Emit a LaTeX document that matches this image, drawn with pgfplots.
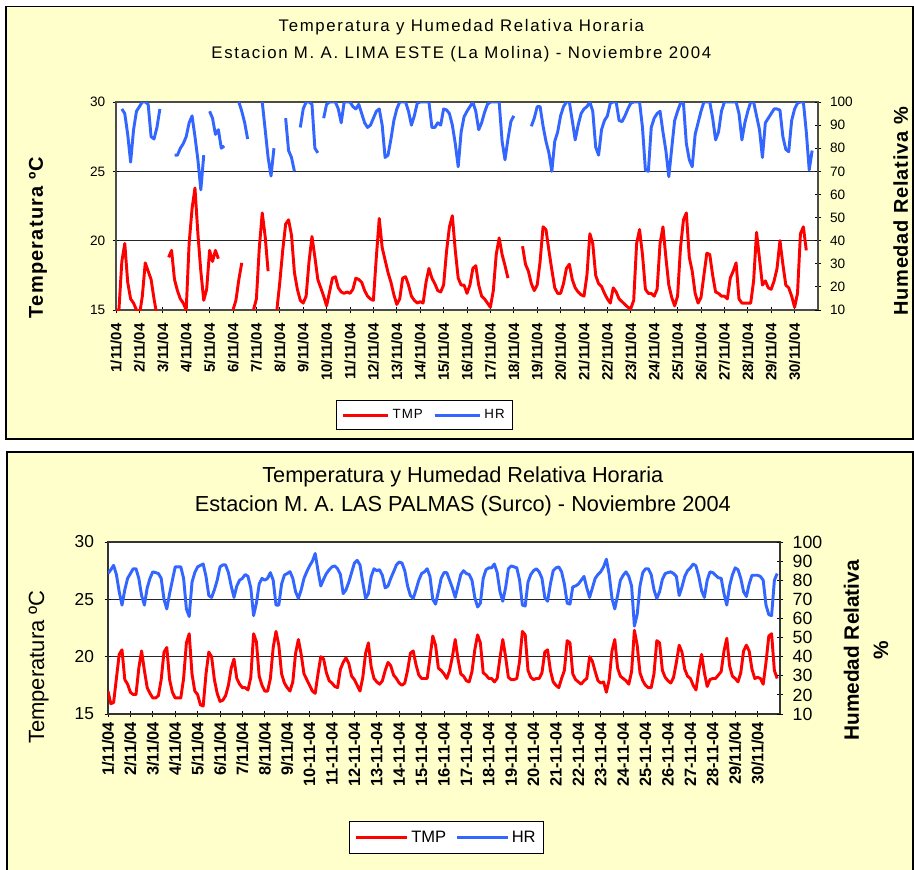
\documentclass[border=0pt]{standalone}
\usepackage{fontspec}
\setmainfont{Liberation Sans}
\usepackage{pgfplots}
\usepackage{pgfplotstable}
\pgfplotsset{compat=1.18}
\definecolor{panelbg}{HTML}{FFFFCC}
\definecolor{tmpred}{HTML}{FF0000}
\definecolor{hrblue}{HTML}{3366FF}

% Top panel (La Molina), 3-hourly values: T (degC), H (%)
\pgfplotstableread{
T H
15.0 nan
15.0 nan
18.5 97
19.8 95
17.0 86
15.8 74
15.5 88
15.0 96
14.6 98
16.0 100
18.4 100
17.8 99
17.2 85
15.8 84
14.6 89
nan 97
nan nan
nan nan
18.8 nan
19.3 nan
17.2 77
16.4 77
15.8 80
15.5 82
15.0 85
19.8 91
22.3 94
23.8 85
20.5 75
17.8 62
15.7 77
16.5 nan
19.3 96
18.5 93
19.3 86
18.7 88
nan 80
nan 81
nan nan
nan nan
15.0 nan
15.7 nan
17.2 100
18.4 96
nan 91
nan 84
nan nan
15.0 nan
15.8 nan
19.5 nan
22.0 100
20.3 88
17.8 76
nan 68
nan 80
15.0 nan
17.0 nan
19.3 nan
21.2 93
21.5 79
20.4 76
17.7 70
16.5 nan
15.7 89
15.5 97
16.0 100
18.5 100
20.3 99
18.8 80
17.2 78
16.6 nan
16.0 93
15.3 99
16.3 100
17.3 100
17.4 100
16.6 97
16.3 91
16.2 100
16.3 100
16.2 100
16.5 98
17.3 97
17.2 99
17.0 95
16.4 91
16.0 89
15.8 90
15.7 93
18.8 96
21.6 97
19.5 90
18.6 76
17.7 77
17.0 84
16.1 92
15.4 97
15.8 100
17.3 100
17.4 100
16.8 96
16.0 90
15.7 94
15.5 99.5
15.6 100
15.5 100
17.0 100
18.0 100
17.3 89
16.9 89
16.4 91
16.3 90
16.8 97
19.2 96.6
21.0 95
21.8 90
19.3 82
17.3 72
16.8 87
16.8 93.6
16.2 96
16.8 98
18.0 100
18.2 96
16.8 88
16.0 91
15.8 95.5
15.5 99
15.2 100
16.4 100
19.0 100
20.2 100
19.0 83
18.2 75
17.3 84
nan 91.5
nan 94
nan nan
nan nan
19.6 nan
18.3 nan
17.8 nan
16.9 89.5
16.4 93
16.8 98
18.5 98
21.0 89.6
20.8 83
19.3 78
17.9 70
16.6 83
16.2 87
16.2 94
16.9 98
18.0 100
18.3 100
17.2 92
16.6 83.6
16.3 90
16.1 95
16.0 97
17.5 98
20.5 100
19.8 96
17.5 80.5
16.9 77
16.7 88
16.2 92
15.8 94
15.5 99.5
16.6 100
16.3 100
15.8 92
15.6 91.5
15.4 94
15.2 97
15.1 99.5
15.7 100
19.8 100
20.8 100
19.0 89
16.5 70.6
16.2 70
16.2 89
16.0 93
16.5 95
19.8 96
21.0 87
18.8 79
16.8 67.7
15.9 80
15.3 92
16.0 96
19.5 99.5
21.5 99.5
22.0 82
18.8 75
17.8 72
16.2 86
15.5 91
15.9 96
17.5 100
19.1 100
19.0 100
17.5 93
16.3 83.6
16.2 87
16.0 96
16.0 100
15.8 100
17.3 100
17.8 100
18.4 100
15.8 95
15.5 83.6
15.5 91
15.5 96
15.5 100
17.1 100
20.6 94
18.7 88
16.8 76
17.1 91
16.6 93
16.5 95
17.1 97
18.0 97
20.0 96.5
18.3 85
16.8 79.5
16.6 78.5
16.0 92
15.2 97
16.2 99.5
20.5 100
21.0 100
19.3 87
nan 70.6
nan 79
nan nan
}\topdata

% Bottom panel (Las Palmas), 3-hourly values: T (degC), H (%)
\pgfplotstableread{
T H
17.0 83.5
15.9 85.5
16.0 87.8
18.1 83
20.2 74
20.6 67
18.0 75
17.6 81
16.9 83.5
16.7 86
16.7 86
19.0 81
20.5 72
18.8 67
17.3 76
16.8 81
16.4 84.4
16.4 84
16.6 83.5
18.0 81
20.4 70
20.8 65
18.0 73
16.9 80
16.4 87
16.4 87
16.4 87
18.1 81
21.2 65
22.0 61
18.5 79
17.0 84
16.7 87
15.8 87.8
15.7 88.5
18.5 82
20.4 72
20.0 71
18.0 75
16.8 80
16.1 87
16.2 88
16.6 88
17.5 84
19.0 77
19.8 71
18.1 77
17.6 80
17.3 81
17.3 83
17.1 82
18.2 76
22.0 61.5
21.3 68
18.3 78
17.5 81
17.0 80
17.0 81
18.1 84
20.8 80
22.2 67
21.0 67
18.5 78
17.7 82.7
17.3 83.5
17.0 84.5
17.8 81
20.3 74
21.5 70.5
20.2 75
18.5 81
18.0 84.5
17.5 87.5
17.0 90
16.8 94
18.5 85
20.0 77
19.8 80.5
18.6 83.5
17.9 85.5
17.7 87
17.4 87.5
17.3 86
18.9 83
19.5 73
19.9 75
19.4 79
18.3 84
18.0 89
17.5 90.4
17.0 88
18.2 79
20.3 70.5
21.2 73
19.1 82
18.1 86
17.8 85
17.6 85.5
17.9 82.5
18.8 76
19.5 77
19.2 81
18.4 84.4
18.1 88
17.7 89.5
17.5 89
17.7 85
18.8 77
20.3 72
20.5 70.5
19.3 75
18.4 80
18.1 83.5
18.1 84.4
18.1 86
19.9 82
21.8 70
21.0 67.5
19.0 74
18.8 81
18.5 84
18.1 84
18.8 80
20.0 76
21.5 71
19.8 77
18.5 83
18.3 85
17.9 83.5
17.8 83
18.7 80
20.6 71
21.9 66
21.2 68
18.6 81
18.4 85.5
18.1 86.5
18.1 86.5
17.8 88.5
18.1 84
19.9 74
21.5 69
20.0 76
18.2 86
18.0 87.5
18.0 87
18.1 86.5
19.6 80
22.2 67
21.9 66.5
18.8 79
18.2 83
18.0 85
18.1 86
18.1 84.4
18.6 81
20.4 71
20.6 69
18.8 78
17.8 85
17.5 86.5
17.3 87
18.1 84.4
18.8 78
21.4 68
21.2 67.5
18.5 76.5
18.0 77
17.8 78
17.6 80
17.9 82
18.1 76
20.0 71
19.6 76
18.7 81
17.9 83
17.7 84.5
17.8 87
16.9 91
18.0 83
20.5 70.5
21.5 65
19.0 72
18.3 80
18.1 82.6
17.9 84.4
17.6 82
18.7 77
22.3 56
21.0 62
18.6 77
17.9 84
17.5 86
17.3 86
17.3 83
18.5 75
21.4 70.5
21.2 74
18.8 80.5
18.2 83.5
17.9 84
17.7 84.4
18.2 83.5
19.5 82
21.0 72
20.4 76.5
18.9 82
18.3 85
18.1 86.5
17.5 88.5
17.1 87.5
18.8 82
20.2 74.5
18.6 71
17.4 80
18.0 84.4
18.1 84
18.1 82.6
18.4 81.3
18.7 81
20.5 73
21.6 67
19.2 77
18.3 82.8
18.1 86.5
17.8 85.5
18.6 81
20.5 74
21.0 71.5
20.5 78
18.9 82.6
18.1 82.6
18.2 82.6
18.1 82
17.6 80
19.5 67
21.8 62
22.0 61.5
18.8 80
18.1 83.5
}\bottomdata

\pgfplotsset{
  common/.style={
    scale only axis, xmin=0, xmax=30,
    unbounded coords=jump,
    tick align=center, major tick length=5pt,
    tick style={black, line width=0.7pt},
    /pgf/number format/assume math mode=true,
  },
  seriesT/.style={tmpred, line width=2.2pt, line join=round},
  seriesH/.style={hrblue, line width=2.2pt, line join=round},
}

\begin{document}
\begin{tikzpicture}
\useasboundingbox (0,0) rectangle (685.5pt,-651.75pt);
\fill[white] (0,0) rectangle (685.5pt,-651.75pt);
\draw[fill=panelbg, line width=0.8pt] (4.5pt,-4.875pt) rectangle (684.75pt,-329.25pt);
\draw[fill=panelbg, line width=0.8pt] (5.25pt,-339pt) rectangle (684.75pt,-653pt);

% ---------------- TOP PANEL ----------------
\begin{axis}[common,
  at={(87pt,-232.5pt)}, anchor=south west,
  width=526.5pt, height=156pt,
  ymin=15, ymax=30,
  axis background/.style={fill=white},
  axis line style={black!70, line width=0.9pt},
  xtick={0,...,29}, xtick pos=lower,
  xticklabels={1/11/04,2/11/04,3/11/04,4/11/04,5/11/04,6/11/04,7/11/04,8/11/04,9/11/04,10/11/04,11/11/04,12/11/04,13/11/04,14/11/04,15/11/04,16/11/04,17/11/04,18/11/04,19/11/04,20/11/04,21/11/04,22/11/04,23/11/04,24/11/04,25/11/04,26/11/04,27/11/04,28/11/04,29/11/04,30/11/04},
  xticklabel style={yshift=-4pt, rotate=90, anchor=east, font=\fontsize{11.2}{12}\selectfont\bfseries},
  ytick={15,20,25,30}, ytick pos=left,
  yticklabel style={font=\fontsize{10.2}{12}\selectfont, xshift=-2pt},
  ymajorgrids, grid style={black!85, line width=0.75pt},
  title={Temperatura y Humedad Relativa Horaria\\Estacion M. A. LIMA ESTE (La Molina) - Noviembre 2004},
  every axis title/.style={at={(axis description cs:0.492,1)}, anchor=south, yshift=30pt, align=center, inner sep=0pt,
    font=\fontsize{12.6}{20}\selectfont\addfontfeatures{LetterSpace=10}},
  ylabel={Temperatura ºC},
  every axis y label/.style={at={(axis description cs:-0.111,0.349)}, rotate=90, anchor=center,
    font=\fontsize{15}{18}\selectfont\bfseries\addfontfeatures{LetterSpace=6}},
]
\addplot[seriesT] table[x expr=\coordindex/8, y=T] {\topdata};
\end{axis}
\begin{axis}[common,
  at={(87pt,-232.5pt)}, anchor=south west,
  width=526.5pt, height=156pt,
  ymin=10, ymax=100,
  axis x line=none, axis y line*=right,
  axis line style={black!70, line width=0.9pt},
  ytick={10,20,...,100},
  yticklabel style={font=\fontsize{10.2}{12}\selectfont, xshift=3pt},
  ylabel={Humedad Relativa \%},
  every axis y label/.style={at={(axis description cs:1.118,0.474)}, rotate=90, anchor=center,
    font=\fontsize{15}{18}\selectfont\bfseries\addfontfeatures{LetterSpace=4}},
  legend columns=2,
  legend image code/.code={\draw[#1] (0pt,0pt) -- (34pt,0pt);},
  legend style={at={(axis description cs:0.4395,-0.505)}, anchor=center, draw=black, fill=white, line width=0.8pt,
    font=\fontsize{10}{12}\selectfont\addfontfeatures{LetterSpace=8},
    /tikz/every even column/.append style={column sep=6pt}, inner xsep=4pt, inner ysep=4.5pt},
]
\addlegendimage{seriesT}
\addlegendentry{TMP}
\addplot[seriesH] table[x expr=\coordindex/8, y=H] {\topdata};
\addlegendentry{HR}
\end{axis}

% ---------------- BOTTOM PANEL ----------------
\begin{axis}[common,
  at={(81pt,-535.5pt)}, anchor=south west,
  width=504pt, height=129pt,
  ymin=15, ymax=30,
  axis background/.style={fill=white},
  axis line style={black!80, line width=0.9pt},
  xtick={0,...,29}, xtick pos=lower,
  xticklabels={1/11/04,2/11/04,3/11/04,4/11/04,5/11/04,6/11/04,7/11/04,8/11/04,9/11/04,10-11-04,11-11-04,12-11-04,13-11-04,14-11-04,15-11-04,16-11-04,17-11-04,18-11-04,19-11-04,20-11-04,21-11-04,22-11-04,23-11-04,24-11-04,25-11-04,26-11-04,27-11-04,28-11-04,29/11/04,30/11/04},
  xticklabel style={rotate=90, anchor=east, font=\fontsize{12.3}{14}\selectfont\bfseries},
  ytick={15,20,25,30}, ytick pos=left,
  yticklabel style={font=\fontsize{13}{15}\selectfont, xshift=-4.5pt},
  ymajorgrids, grid style={black!85, line width=0.75pt},
  title={Temperatura y Humedad Relativa Horaria\\Estacion M. A. LAS PALMAS (Surco) - Noviembre 2004},
  every axis title/.style={at={(axis description cs:0.528,1)}, anchor=south, yshift=19pt, align=center, inner sep=0pt,
    font=\fontsize{16.3}{21.75}\selectfont},
  ylabel={Temperatura ºC},
  every axis y label/.style={at={(axis description cs:-0.103,0.273)}, rotate=90, anchor=center,
    font=\fontsize{16.5}{18}\selectfont},
]
\addplot[seriesT] table[x expr=\coordindex/8, y=T] {\bottomdata};
\end{axis}
\begin{axis}[common,
  at={(81pt,-535.5pt)}, anchor=south west,
  width=504pt, height=129pt,
  ymin=10, ymax=100,
  axis x line=none, axis y line*=right,
  axis line style={black!80, line width=0.9pt},
  ytick={10,20,...,100},
  yticklabel style={font=\fontsize{13.3}{15}\selectfont, xshift=3.5pt},
  ylabel={Humedad Relativa\\\%},
  every axis y label/.style={at={(axis description cs:1.128,0.37)}, rotate=90, anchor=center, align=center,
    font=\fontsize{15.6}{22}\selectfont\bfseries},
  legend columns=2,
  legend image code/.code={\draw[#1] (0pt,0pt) -- (38pt,0pt);},
  legend style={at={(axis description cs:0.504,-0.718)}, anchor=center, draw=black, fill=white, line width=0.8pt,
    font=\fontsize{12.4}{14}\selectfont,
    /tikz/every even column/.append style={column sep=5pt}, inner xsep=4pt, inner ysep=5pt},
]
\addlegendimage{seriesT}
\addlegendentry{TMP}
\addplot[seriesH] table[x expr=\coordindex/8, y=H] {\bottomdata};
\addlegendentry{HR}
\end{axis}
\end{tikzpicture}
\end{document}
